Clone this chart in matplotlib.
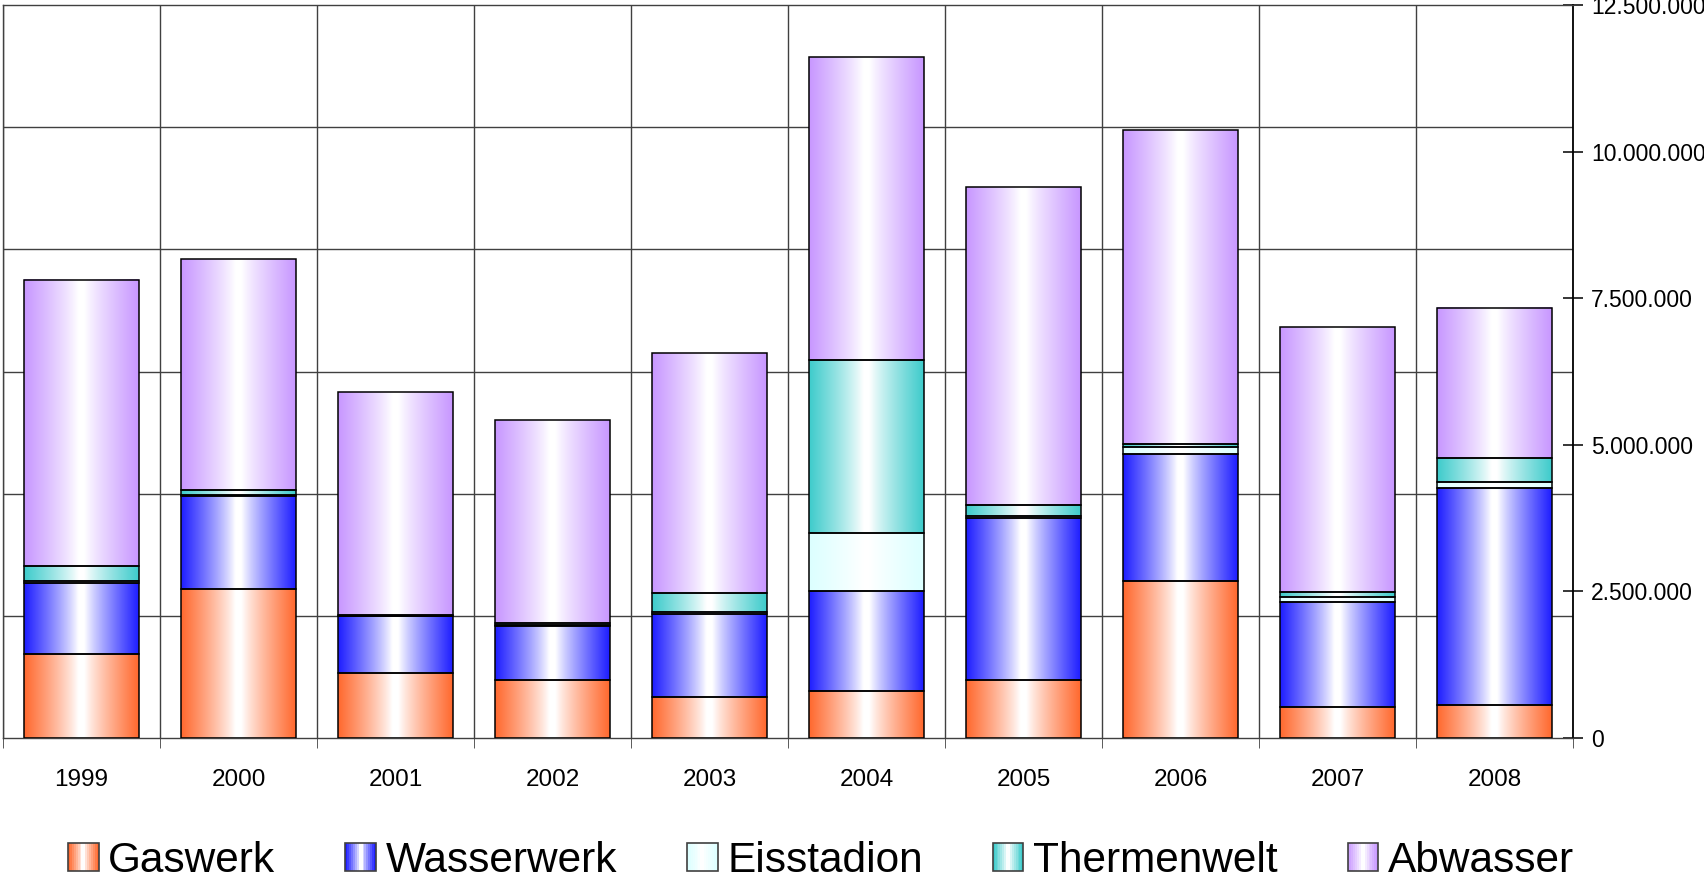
import numpy as np
import matplotlib
matplotlib.use("Agg")
import matplotlib.pyplot as plt
from matplotlib.patches import Patch, Rectangle
from matplotlib.legend_handler import HandlerBase

plt.rcParams['font.family'] = ['Liberation Sans', 'DejaVu Sans']

# values in millions
years = ['1999', '2000', '2001', '2002', '2003', '2004', '2005', '2006', '2007', '2008']
gaswerk = [1.434, 2.539, 1.105, 0.990, 0.703, 0.794, 0.990, 2.670, 0.524, 0.565]
wasserwerk = [1.208, 1.581, 0.967, 0.923, 1.404, 1.716, 2.765, 2.175, 1.796, 3.705]
eisstadion = [0.030, 0.030, 0.010, 0.020, 0.043, 0.990, 0.031, 0.111, 0.090, 0.095]
thermenwelt = [0.253, 0.085, 0.013, 0.036, 0.330, 2.950, 0.194, 0.064, 0.087, 0.410]
abwasser = [4.885, 3.939, 3.802, 3.461, 4.080, 5.160, 5.410, 5.340, 4.508, 2.565]

series = ['Gaswerk', 'Wasserwerk', 'Eisstadion', 'Thermenwelt', 'Abwasser']
colors = ['#FF6A30', '#2020FF', '#DCFFFF', '#40CCCC', '#C898FF']


def gradient(color, n=64):
    c = np.array(matplotlib.colors.to_rgb(color))
    t = np.linspace(0, 1, n)
    w = np.clip((np.abs(t - 0.5) - 0.03) / 0.47, 0, 1) ** 0.85
    g = (1 - w)[:, None] * np.ones(3) + w[:, None] * c
    return g[None, :, :]


class GradientHandler(HandlerBase):
    def create_artists(self, legend, orig_handle, xdescent, ydescent,
                       width, height, fontsize, trans):
        g = gradient(orig_handle.get_facecolor(), 16)[0]
        arts = []
        sw = width / len(g)
        for i, c in enumerate(g):
            arts.append(Rectangle((-xdescent + i * sw, -ydescent), sw * 1.05, height,
                                  facecolor=c, edgecolor='none', transform=trans))
        arts.append(Rectangle((-xdescent, -ydescent), width, height, facecolor='none',
                              edgecolor='#404040', linewidth=1.2, transform=trans))
        return arts


fig = plt.figure(figsize=(17.04, 8.81), dpi=100)
ax = fig.add_axes([3 / 1704, 1 - 738 / 881, 1570 / 1704, 733 / 881])

x = np.arange(len(years))
data = [np.array(gaswerk), np.array(wasserwerk), np.array(eisstadion),
        np.array(thermenwelt), np.array(abwasser)]
bottom = np.zeros(len(years))
for vals, col in zip(data, colors):
    bars = ax.bar(x, vals * 1e6, width=0.73, bottom=bottom * 1e6,
                  facecolor='none', edgecolor='black', linewidth=1.1, zorder=3)
    for p in bars.patches:
        bb = p.get_bbox()
        ax.imshow(gradient(col), extent=[bb.x0, bb.x1, bb.y0, bb.y1],
                  aspect='auto', origin='lower', interpolation='bilinear', zorder=2)
    bottom = bottom + vals

ax.set_xlim(-0.5, len(years) - 0.5)
ax.set_ylim(0, 12.5e6)

# gridlines
ax.set_xticks(x)
ax.set_xticklabels(years, fontsize=17.5)
ax.set_xticks(np.arange(len(years) + 1) - 0.5, minor=True)
ax.tick_params(axis='x', which='major', length=0, pad=22)
ax.tick_params(axis='x', which='minor', length=7, direction='out', color='#404040')

ax.yaxis.tick_right()
yt = np.arange(0, 12.5e6 + 1, 2.5e6)
ax.set_yticks(yt)
ax.set_yticklabels(['{:,}'.format(int(v)).replace(',', '.') for v in yt], fontsize=16.5)
ax.set_yticks(np.arange(1, 6) * 12.5e6 / 6, minor=True)
ax.tick_params(axis='y', which='major', length=14, direction='inout', width=1.1, pad=6)
ax.tick_params(axis='y', which='minor', length=0)

ax.grid(True, which='minor', color='#404040', linewidth=1)
ax.set_axisbelow(True)
for s in ['left', 'top', 'bottom']:
    ax.spines[s].set_color('#404040')
    ax.spines[s].set_linewidth(1)
ax.spines['right'].set_color('black')
ax.spines['right'].set_linewidth(1.3)

handles = [Patch(facecolor=c, label=s) for s, c in zip(series, colors)]
fig.legend(handles=handles, handler_map={Patch: GradientHandler()},
           loc='center', bbox_to_anchor=(821 / 1704, 1 - 861 / 881), ncol=5,
           frameon=False, fontsize=30.5, handlelength=0.72, handleheight=0.64,
           handletextpad=0.23, columnspacing=1.65, borderpad=0)

fig.savefig('out.png', dpi=100)
